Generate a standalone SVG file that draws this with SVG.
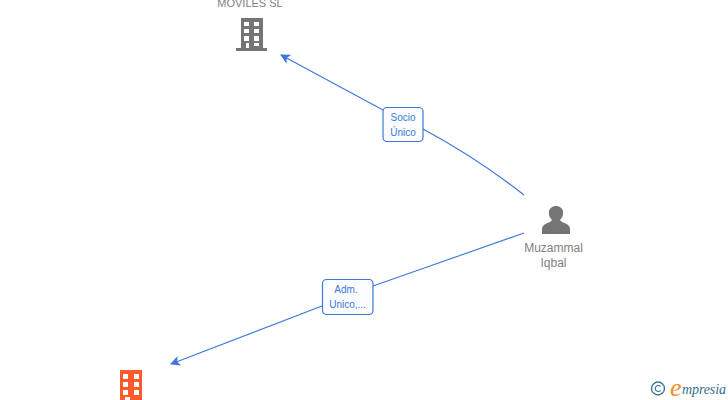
<svg xmlns="http://www.w3.org/2000/svg" width="728" height="400" viewBox="0 0 728 400">
<style>
.lbl{font:12px "Liberation Sans",Arial,sans-serif;fill:#808080;text-anchor:middle}
.edge{font:10px "Liberation Sans",Arial,sans-serif;fill:#3b78d8;text-anchor:middle}
.box{fill:#fbfcfe;stroke:#3b78d8;stroke-width:1.2}
.conn{fill:none;stroke:#3b78d8;stroke-width:1.1}
</style>
<defs>
<marker id="arr" viewBox="0 0 10 10" refX="1" refY="5" markerWidth="10" markerHeight="10" markerUnits="userSpaceOnUse" orient="auto"><path d="M0 5L10 0L7.500 5L10 10Z" fill="#3b78d8"/></marker>
</defs>
<g id="connectors">
<path class="conn" marker-start="url(#arr)" d="M281 55L383 110"/>
<path class="conn" d="M423 129Q477 158 524 195"/>
<path class="conn" marker-start="url(#arr)" d="M171 364L322 306"/>
<path class="conn" d="M373 286L524 233"/>
</g>
<g id="node-moviles">
<text class="lbl" x="250" y="7" style="font-size:11px">MOVILES SL</text>
<path fill="#757575" fill-rule="evenodd" d="M241 18H263V48H267V51H236V48H241ZM244 22V26H249V22ZM254 22V26H259V22ZM244 29V33H249V29ZM254 29V33H259V29ZM244 36V41H249V36ZM254 36V41H259V36ZM246 43V48H249V43ZM254 43V46H259V43Z"/>
</g>
<g id="node-muzammal">
<path fill="#757575" d="M542 234V228Q543 224 550 222L552 220Q548 216 549 211Q551 206 556 206Q561 206 563 211Q564 216 560 220L562 222Q569 224 570 228V234Z"/>
<text class="lbl" x="553.500" y="252">Muzammal</text>
<text class="lbl" x="553.500" y="267">Iqbal</text>
</g>
<g id="node-orange">
<path fill="#ff5a2b" fill-rule="evenodd" d="M120 370H142V400H120ZM123 374V379H128V374ZM134 374V379H139V374ZM123 382V387H128V382ZM134 382V387H139V382ZM123 390V395H128V390ZM134 390V395H139V390ZM125 397V400H130V397Z"/>
</g>
<g id="label-socio">
<rect class="box" x="383" y="107.500" width="40" height="34" rx="4"/>
<text class="edge" x="403" y="121">Socio</text>
<text class="edge" x="403" y="136">Único</text>
</g>
<g id="label-adm">
<rect class="box" x="322.500" y="279.500" width="50.500" height="35" rx="4"/>
<text class="edge" x="346" y="293">Adm.</text>
<text class="edge" x="347.500" y="308">Unico,...</text>
</g>
<g id="watermark">
<circle cx="658" cy="388.500" r="6.500" fill="none" stroke="#3a7d94" stroke-width="1.4"/>
<path d="M660.500 386.500A3 3 0 1 0 660.500 390.500" fill="none" stroke="#3a7d94" stroke-width="1.2"/>
<text x="670" y="396" font-family="'Liberation Serif',serif" font-style="italic" font-size="26" fill="#f28c1e">e</text>
<text x="682" y="394" font-family="'Liberation Serif',serif" font-style="italic" font-size="14" textLength="44" fill="#2f6f8a">mpresia</text>
</g>
</svg>
